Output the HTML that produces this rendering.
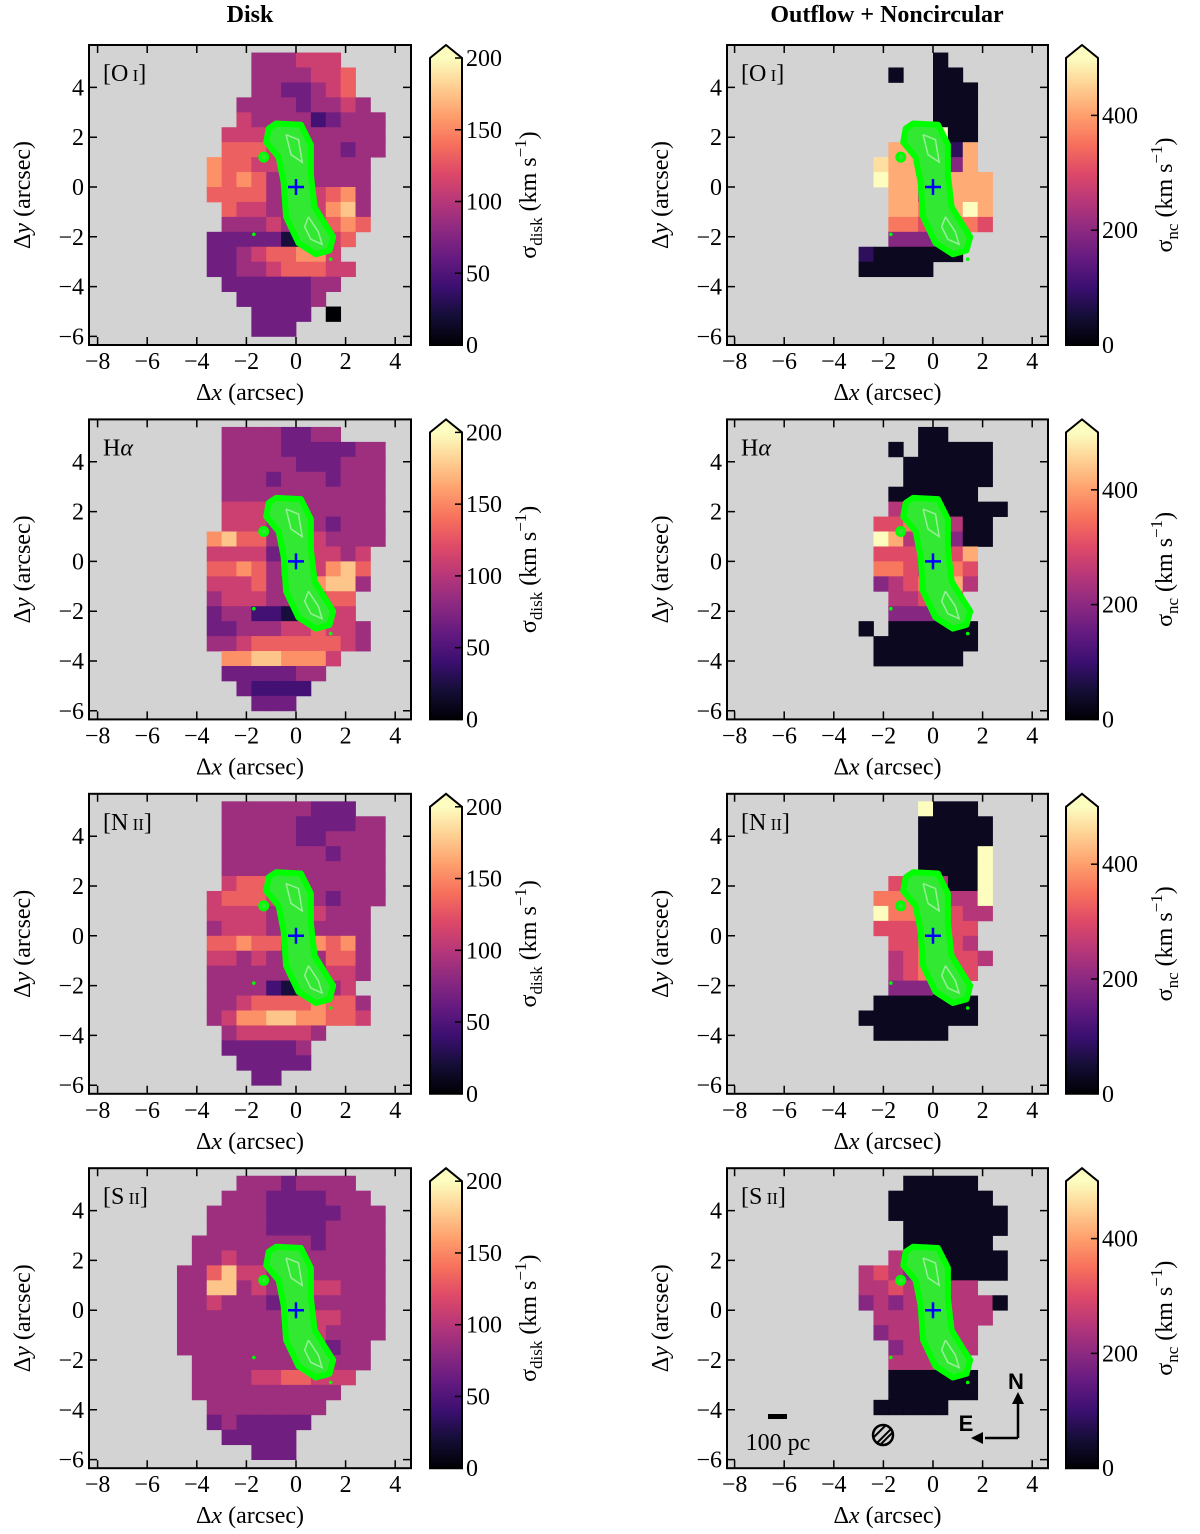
<!DOCTYPE html>
<html><head><meta charset="utf-8">
<style>
html,body{margin:0;padding:0;background:#fff;}
svg text{font-family:"Liberation Serif",serif;fill:#000;}
</style></head>
<body>
<svg id="fig" width="1200" height="1529" viewBox="0 0 1200 1529" xmlns="http://www.w3.org/2000/svg" font-family="Liberation Serif, serif">
<text x="250" y="22" font-size="24" font-weight="bold" text-anchor="middle">Disk</text>
<text x="887" y="22" font-size="24" font-weight="bold" text-anchor="middle">Outflow + Noncircular</text>
</svg>
<script>
// ---- data: grid of cells, x from -4.8 step 0.6 (14 cols), y from 5.4 down step 0.6 (20 rows); digit = level, '.' = no data
const diskStep = 22;   // km/s per level (disk maps)
const ncStep = 55;     // km/s per level (noncircular maps)
const diskOffset = 0;  // level offset (disk)
const ncOffset = 0.5;  // level offset (noncircular)
const xTicks = [-8,-6,-4,-2,0,2,4];
const yTicks = [-6,-4,-2,0,2,4];
const diskCbTicks = [0,50,100,150,200];
const ncCbTicks = [0,200,400];
const lineNames = ["[O I]","Hα","[N II]","[S II]"];

const diskOI = [
".....444555...",".....4444556..",".....4433456..","....444434454.","....5444423444",
"...55544444444","...66654444344","..76655244444.","..76764524444.","..66664455674.",
"...6554445784.","...4445445676.","..3333311156..","..334566775...","..3344566655..",
"...33333344...","....333334....",".....3333.0...",".....333......",".............."];
const diskHa = [
"...44443344...","...44443333344","...44444333444","...44434443444","...44444444444",
"...55544444444","...55544543444","..786644554444","..55553455545.","..66764555786.",
"..55564447884.","..4555444566..","..3442211155..","..33444556554.","..44566666654.",
"...77887775...","...3333344....","....32222.....",".....333......",".............."];
const diskNII = [
"...444444333..","...44444333344","...44444334444","...44444443444","...44444444444",
"...56644444444","..566655543444","..55554445444.","..45554454444.","..66766577674.",
"..55454454664.","..44444444554.","..4444211145..","..44566667664.","..45778877665.",
"...4555554....","...333334.....","....33333.....",".....33.......",".............."];
const diskSII = [
"....44434444..","...4443333444.","..444433333444","..444433334444",".4444444434444",
".4454444444444","44685544444444","44884544555444","44544434444444","44444444455444",
"44444444454444","4444444444344.",".444444444444.",".44445566555..",".4444444444...",
"..44444444....","..3433333.....","...33333......",".....333......",".............."];
const ncOI = [
"........0.....",".....0..00....","........000...","........000...","........000...",
"......89900...",".....776617...","....8774737...","....97747777..",".....7747777..",
".....7767797..",".....6656665..",".....3333.....","...1000000....","...00000......",
"..............","..............","..............","..............",".............."];
const ncHa = [
".......00.....",".....0.00000..","......000000..","......000000..",".....000000...",
".....44400000.","....55664400..","....97453300..","....5556557...","....6654565...",
"....3456474...",".....44565....",".....33322....","...0.000000...","....0000000...",
"....000000....","..............","..............","..............",".............."];
const ncNII = [
".......9000...",".......00000..",".......00000..",".......00009..",".......00009..",
".....5554009..","....66656449..","....96665544..","....5556655...",".....556654...",
".....4565554..",".....456555...",".....3330.....","....0000000...","...00000000...",
"....00000.....","..............","..............","..............",".............."];
const ncSII = [
"......00000...",".....0000000..",".....00000000.","......0000000.","......000000..",
".....40000000.","...4543400000.","...44545444...","...3434444440.","....44444444..",
"....3444444...",".....344444...",".....4444.....",".....000000...",".....000000...",
"....00000.....","..............","..............","..............",".............."];

const diskMaps=[diskOI,diskHa,diskNII,diskSII];
const ncMaps=[ncOI,ncHa,ncNII,ncSII];

const NS="http://www.w3.org/2000/svg";
const svg=document.getElementById('fig');
const stops=[[0,[0,0,4]],[.1,[20,14,54]],[.2,[59,15,112]],[.3,[100,26,128]],[.4,[140,41,129]],[.5,[183,55,121]],[.6,[222,73,104]],[.7,[247,112,92]],[.8,[254,159,109]],[.9,[254,207,146]],[1,[252,253,191]]];
function magma(t){t=Math.max(0,Math.min(1,t));for(let i=1;i<stops.length;i++){if(t<=stops[i][0]){const a=stops[i-1],b=stops[i];const f=(t-a[0])/(b[0]-a[0]);const c=a[1].map((v,k)=>Math.round(v+(b[1][k]-v)*f));return `rgb(${c[0]},${c[1]},${c[2]})`;}}return 'rgb(252,253,191)';}
function el(tag,attrs,parent){const e=document.createElementNS(NS,tag);for(const k in attrs)e.setAttribute(k,attrs[k]);(parent||svg).appendChild(e);return e;}

const rowDY=374.4, SX=24.8, SY=24.9;
const contour=[[-0.8,2.55],[0.2,2.5],[0.6,1.7],[0.6,0.5],[0.75,-0.8],[1.15,-1.45],[1.5,-2.0],[1.35,-2.55],[0.8,-2.7],[0.1,-2.25],[-0.4,-1.2],[-0.5,0.2],[-0.7,1.2],[-1.2,1.8],[-1.1,2.35]];
const inner=[[-0.4,2.1],[0.1,1.9],[0.25,1.0],[-0.2,1.3],[-0.4,2.1]];
const inner2=[[0.5,-1.2],[0.9,-1.8],[1.05,-2.3],[0.6,-2.1],[0.35,-1.6],[0.5,-1.2]];

function panel(col,row){
  const L=col===0?89:727, R=col===0?411:1048, T=45+row*rowDY, B=T+300;
  const X0=col===0?296:933, Y0=187+row*rowDY;
  const px=x=>X0+x*SX, py=y=>Y0-y*SY;
  const g=el('g',{});
  
  
  const cid='clip'+col+row;
  const cp=el('clipPath',{id:cid},g);el('rect',{x:L,y:T,width:R-L,height:B-T},cp);
  el('rect',{x:L,y:T,width:R-L,height:B-T,fill:'#d3d3d3'},g);
  const mg=el('g',{'clip-path':`url(#${cid})`},g);
  const map=col===0?diskMaps[row]:ncMaps[row];
  const step=col===0?diskStep:ncStep, vmax=col===0?200:500, off=col===0?diskOffset:ncOffset;
  map.forEach((s,r)=>{for(let c=0;c<s.length;c++){const ch=s[c];if(ch==='.')continue;
    const v=(+ch+off)*step;const x=-4.8+c*0.6,y=5.4-r*0.6;
    const rc=el('rect',{x:px(x),y:py(y),width:0.6*SX+0.4,height:0.6*SY+0.4,fill:magma(v/vmax)},mg);
    
    }});
  // contours
  const pts=a=>a.map(p=>px(p[0])+','+py(p[1])).join(' ');
  const cg=el('g',{},mg);
  
  
  el('polygon',{points:pts(contour),fill:'#33e833',stroke:'#00ff00','stroke-width':6,'stroke-linejoin':'round'},cg);
  el('polyline',{points:pts(inner),fill:'none',stroke:'#99ee99','stroke-width':1.5},cg);
  el('polyline',{points:pts(inner2),fill:'none',stroke:'#99ee99','stroke-width':1.5},cg);
  el('circle',{cx:px(-1.3),cy:py(1.2),r:4,fill:'#33e833',stroke:'#00ff00','stroke-width':3},cg);
  el('circle',{cx:px(-1.7),cy:py(-1.9),r:1.8,fill:'#00ff00'},cg);
  el('circle',{cx:px(1.4),cy:py(-2.9),r:1.8,fill:'#00ff00'},cg);
  const cr=el('path',{d:`M${px(0)-8},${py(0)}h16M${px(0)},${py(0)-8}v16`,stroke:'#0000ff','stroke-width':2.5},g);
  
  
  el('rect',{x:L,y:T,width:R-L,height:B-T,fill:'none',stroke:'#000','stroke-width':2},g);
  xTicks.forEach(v=>{const x=px(v);el('path',{d:`M${x},${B}v-8M${x},${T}v8`,stroke:'#000','stroke-width':1.5},g);
    const t=el('text',{x:x,y:B+24,'font-size':24,'text-anchor':'middle'},g);t.textContent=(v<0?'\u2212':'')+Math.abs(v);
    
    });
  yTicks.forEach(v=>{const y=py(v);el('path',{d:`M${L},${y}h8M${R},${y}h-8`,stroke:'#000','stroke-width':1.5},g);
    const t=el('text',{x:L-5,y:y+8,'font-size':24,'text-anchor':'end'},g);t.textContent=(v<0?'\u2212':'')+Math.abs(v);
    
    });
  const xl=el('text',{x:(L+R)/2,y:B+55,'font-size':24,'text-anchor':'middle'},g);
  xl.innerHTML='\u0394<tspan font-style="italic">x</tspan> (arcsec)';
  
  
  const yl=el('text',{x:0,y:0,'font-size':24,'text-anchor':'middle',transform:`translate(${L-59},${(T+B)/2}) rotate(-90)`},g);
  yl.innerHTML='\u0394<tspan font-style="italic">y</tspan> (arcsec)';
  
  
  const lb=el('text',{x:L+14,y:T+36,'font-size':24},g);
  const nm=lineNames[row];
  if(nm==='Hα') lb.innerHTML='H<tspan font-style="italic">α</tspan>';
  else {const m=nm.match(/\[(\S+) (I+)\]/);lb.innerHTML=`[${m[1]}<tspan font-size="17"> ${m[2]}</tspan>]`;}
  
  
  // colorbar
  const cx=col===0?430:1066, cw=32, cT=T+13, cB=B;
  const cb=el('g',{},g);
  
  
  const gid='grad'+col+row;
  const lg=el('linearGradient',{id:gid,x1:0,y1:1,x2:0,y2:0},cb);
  for(let i=0;i<=10;i++)el('stop',{offset:i/10,'stop-color':magma(i/10)},lg);
  el('rect',{x:cx,y:cT,width:cw,height:cB-cT,fill:`url(#${gid})`},cb);
  el('path',{d:`M${cx},${cT}L${cx+cw/2},${T}L${cx+cw},${cT}Z`,fill:magma(1)},cb);
  el('path',{d:`M${cx},${cT}L${cx+cw/2},${T}L${cx+cw},${cT}V${cB}H${cx}Z`,fill:'none',stroke:'#000','stroke-width':2},cb);
  const cbt=col===0?diskCbTicks:ncCbTicks;
  cbt.forEach(v=>{const y=cB-(v/vmax)*(cB-cT);el('path',{d:`M${cx+cw},${y}h-7`,stroke:'#000','stroke-width':1.5},cb);
    const t=el('text',{x:cx+cw+4,y:y+8,'font-size':24},cb);t.textContent=v;
    
    });
  const ct=el('text',{x:0,y:0,'font-size':24,'text-anchor':'middle',transform:`translate(${cx+106},${(T+B)/2}) rotate(-90)`},cb);
  ct.innerHTML=`σ<tspan font-size="17" dy="6">${col===0?'disk':'nc'}</tspan><tspan dy="-6"> (km s</tspan><tspan font-size="17" dy="-10">\u22121</tspan><tspan dy="10">)</tspan>`;
  
  
  if(col===1&&row===3){
    const ex=el('g',{},g);
    
    
    el('rect',{x:768,y:1414,width:19,height:5,fill:'#000'},ex);
    const sb=el('text',{x:778,y:1450,'font-size':24,'text-anchor':'middle'},ex);sb.textContent='100 pc';
    el('circle',{cx:883,cy:1435,r:10,fill:'none',stroke:'#000','stroke-width':2.5},ex);
    el('path',{d:'M877,1443L891,1429M874,1437L885,1426M881,1444L892,1433',stroke:'#000','stroke-width':2},ex);
    el('path',{d:'M1018,1438V1402M985,1438H1018',stroke:'#000','stroke-width':2.5,fill:'none'},ex);
    el('path',{d:'M1012,1404L1018,1392L1024,1404Z',fill:'#000'},ex);
    el('path',{d:'M983,1432L971,1438L983,1444Z',fill:'#000'},ex);
    const n=el('text',{x:1016,y:1389,'font-size':22,'font-weight':'bold','text-anchor':'middle'},ex);n.textContent='N';n.style.fontFamily='"Liberation Sans",sans-serif';
    const e=el('text',{x:966,y:1431,'font-size':22,'font-weight':'bold','text-anchor':'middle'},ex);e.textContent='E';e.style.fontFamily='"Liberation Sans",sans-serif';
  }
}
for(let r=0;r<4;r++){panel(0,r);panel(1,r);}
</script>
</body></html>
